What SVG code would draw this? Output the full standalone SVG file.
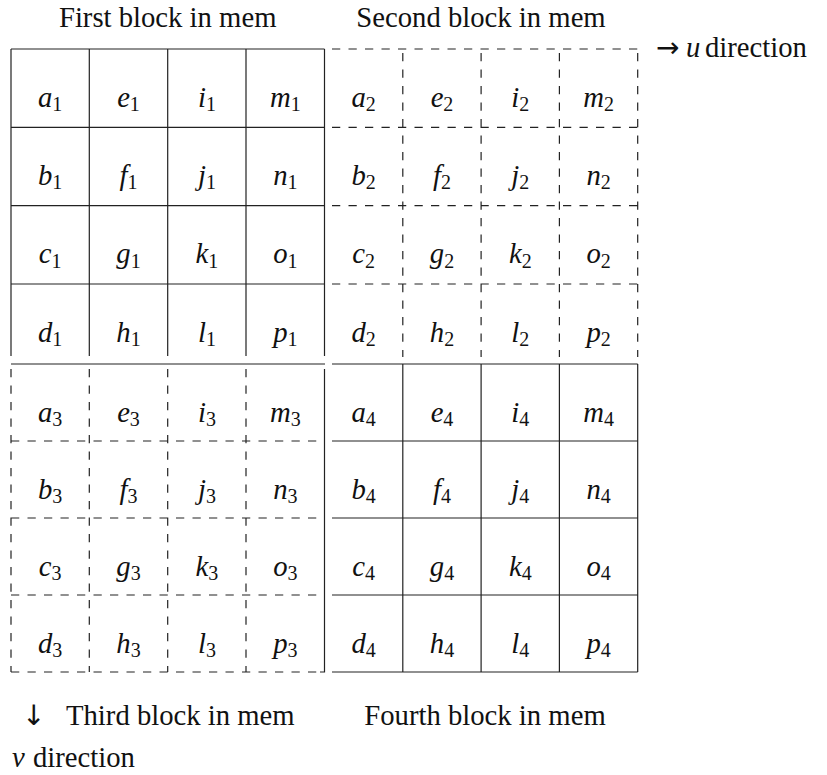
<svg xmlns="http://www.w3.org/2000/svg" width="827" height="775" viewBox="0 0 827 775">
<style>
.s{stroke:#222;stroke-width:1.2;fill:none}
.d{stroke:#222;stroke-width:1.2;stroke-dasharray:8.25 8.25;fill:none}
.m{font-family:'Liberation Serif','Times New Roman','DejaVu Serif',serif;font-style:italic;font-size:28.7px;text-anchor:middle;fill:#111}
.sub{font-style:normal;font-size:20px}
.t{font-family:'Liberation Serif','Times New Roman','DejaVu Serif',serif;font-size:28.7px;fill:#111}
.a{font-family:'DejaVu Sans',sans-serif;font-size:28px;fill:#111}
</style>
<rect width="827" height="775" fill="#fff"/>
<g id="connectors"></g>
<g id="block1">
<path class="s" d="M11,49H324.5M11,127.3H324.5M11,205.6H324.5M11,284H324.5M11,364H325M11,49V356M89.3,49V356M167.7,49V356M246,49V356M324.5,49V356"/>
<text class="m" x="50.2" y="106.5">a<tspan class="sub" dy="4.5">1</tspan></text>
<text class="m" x="128.5" y="106.5">e<tspan class="sub" dy="4.5">1</tspan></text>
<text class="m" x="206.9" y="106.5">i<tspan class="sub" dy="4.5">1</tspan></text>
<text class="m" x="285.3" y="106.5">m<tspan class="sub" dy="4.5">1</tspan></text>
<text class="m" x="50.2" y="184.8">b<tspan class="sub" dy="4.5">1</tspan></text>
<text class="m" x="128.5" y="184.8">f<tspan class="sub" dy="4.5">1</tspan></text>
<text class="m" x="206.9" y="184.8">j<tspan class="sub" dy="4.5">1</tspan></text>
<text class="m" x="285.3" y="184.8">n<tspan class="sub" dy="4.5">1</tspan></text>
<text class="m" x="50.2" y="263.1">c<tspan class="sub" dy="4.5">1</tspan></text>
<text class="m" x="128.5" y="263.1">g<tspan class="sub" dy="4.5">1</tspan></text>
<text class="m" x="206.9" y="263.1">k<tspan class="sub" dy="4.5">1</tspan></text>
<text class="m" x="285.3" y="263.1">o<tspan class="sub" dy="4.5">1</tspan></text>
<text class="m" x="50.2" y="341.5">d<tspan class="sub" dy="4.5">1</tspan></text>
<text class="m" x="128.5" y="341.5">h<tspan class="sub" dy="4.5">1</tspan></text>
<text class="m" x="206.9" y="341.5">l<tspan class="sub" dy="4.5">1</tspan></text>
<text class="m" x="285.3" y="341.5">p<tspan class="sub" dy="4.5">1</tspan></text>
</g>
<g id="block2">
<path class="d" d="M332,49H637.7M332,127.3H637.7M332,205.6H637.7M332,284H637.7M402.8,53V357M481.1,53V357M559.4,53V357M637.7,53V357"/>
<text class="m" x="363.7" y="106.5">a<tspan class="sub" dy="4.5">2</tspan></text>
<text class="m" x="442" y="106.5">e<tspan class="sub" dy="4.5">2</tspan></text>
<text class="m" x="520.3" y="106.5">i<tspan class="sub" dy="4.5">2</tspan></text>
<text class="m" x="598.6" y="106.5">m<tspan class="sub" dy="4.5">2</tspan></text>
<text class="m" x="363.7" y="184.8">b<tspan class="sub" dy="4.5">2</tspan></text>
<text class="m" x="442" y="184.8">f<tspan class="sub" dy="4.5">2</tspan></text>
<text class="m" x="520.3" y="184.8">j<tspan class="sub" dy="4.5">2</tspan></text>
<text class="m" x="598.6" y="184.8">n<tspan class="sub" dy="4.5">2</tspan></text>
<text class="m" x="363.7" y="263.1">c<tspan class="sub" dy="4.5">2</tspan></text>
<text class="m" x="442" y="263.1">g<tspan class="sub" dy="4.5">2</tspan></text>
<text class="m" x="520.3" y="263.1">k<tspan class="sub" dy="4.5">2</tspan></text>
<text class="m" x="598.6" y="263.1">o<tspan class="sub" dy="4.5">2</tspan></text>
<text class="m" x="363.7" y="341.5">d<tspan class="sub" dy="4.5">2</tspan></text>
<text class="m" x="442" y="341.5">h<tspan class="sub" dy="4.5">2</tspan></text>
<text class="m" x="520.3" y="341.5">l<tspan class="sub" dy="4.5">2</tspan></text>
<text class="m" x="598.6" y="341.5">p<tspan class="sub" dy="4.5">2</tspan></text>
</g>
<g id="block3">
<path class="d" d="M11,441H318M11,518H318M11,595H318M11,672H318M11,369V672M89.3,369V672M167.7,369V672M246,369V672"/>
<path class="s" d="M324.5,369V672H320"/>
<text class="m" x="50.2" y="421.5">a<tspan class="sub" dy="4.5">3</tspan></text>
<text class="m" x="128.5" y="421.5">e<tspan class="sub" dy="4.5">3</tspan></text>
<text class="m" x="206.9" y="421.5">i<tspan class="sub" dy="4.5">3</tspan></text>
<text class="m" x="285.3" y="421.5">m<tspan class="sub" dy="4.5">3</tspan></text>
<text class="m" x="50.2" y="498.5">b<tspan class="sub" dy="4.5">3</tspan></text>
<text class="m" x="128.5" y="498.5">f<tspan class="sub" dy="4.5">3</tspan></text>
<text class="m" x="206.9" y="498.5">j<tspan class="sub" dy="4.5">3</tspan></text>
<text class="m" x="285.3" y="498.5">n<tspan class="sub" dy="4.5">3</tspan></text>
<text class="m" x="50.2" y="575.5">c<tspan class="sub" dy="4.5">3</tspan></text>
<text class="m" x="128.5" y="575.5">g<tspan class="sub" dy="4.5">3</tspan></text>
<text class="m" x="206.9" y="575.5">k<tspan class="sub" dy="4.5">3</tspan></text>
<text class="m" x="285.3" y="575.5">o<tspan class="sub" dy="4.5">3</tspan></text>
<text class="m" x="50.2" y="652.5">d<tspan class="sub" dy="4.5">3</tspan></text>
<text class="m" x="128.5" y="652.5">h<tspan class="sub" dy="4.5">3</tspan></text>
<text class="m" x="206.9" y="652.5">l<tspan class="sub" dy="4.5">3</tspan></text>
<text class="m" x="285.3" y="652.5">p<tspan class="sub" dy="4.5">3</tspan></text>
</g>
<g id="block4">
<path class="s" d="M332,364H637.7M332,441H637.7M332,518H637.7M332,595H637.7M332,672H637.7M402.8,364V672M481.1,364V672M559.4,364V672M637.7,364V672"/>
<text class="m" x="363.7" y="421.5">a<tspan class="sub" dy="4.5">4</tspan></text>
<text class="m" x="442" y="421.5">e<tspan class="sub" dy="4.5">4</tspan></text>
<text class="m" x="520.3" y="421.5">i<tspan class="sub" dy="4.5">4</tspan></text>
<text class="m" x="598.6" y="421.5">m<tspan class="sub" dy="4.5">4</tspan></text>
<text class="m" x="363.7" y="498.5">b<tspan class="sub" dy="4.5">4</tspan></text>
<text class="m" x="442" y="498.5">f<tspan class="sub" dy="4.5">4</tspan></text>
<text class="m" x="520.3" y="498.5">j<tspan class="sub" dy="4.5">4</tspan></text>
<text class="m" x="598.6" y="498.5">n<tspan class="sub" dy="4.5">4</tspan></text>
<text class="m" x="363.7" y="575.5">c<tspan class="sub" dy="4.5">4</tspan></text>
<text class="m" x="442" y="575.5">g<tspan class="sub" dy="4.5">4</tspan></text>
<text class="m" x="520.3" y="575.5">k<tspan class="sub" dy="4.5">4</tspan></text>
<text class="m" x="598.6" y="575.5">o<tspan class="sub" dy="4.5">4</tspan></text>
<text class="m" x="363.7" y="652.5">d<tspan class="sub" dy="4.5">4</tspan></text>
<text class="m" x="442" y="652.5">h<tspan class="sub" dy="4.5">4</tspan></text>
<text class="m" x="520.3" y="652.5">l<tspan class="sub" dy="4.5">4</tspan></text>
<text class="m" x="598.6" y="652.5">p<tspan class="sub" dy="4.5">4</tspan></text>
</g>
<g id="captions">
<text class="t" x="167.7" y="27" text-anchor="middle">First block in mem</text>
<text class="t" x="481" y="27" text-anchor="middle">Second block in mem</text>
<text class="a" x="656" y="57">→</text>
<text class="t" x="686" y="57" font-style="italic">u</text>
<text class="t" x="705" y="57">direction</text>
<text class="a" x="22" y="725">↓</text>
<text class="t" x="66" y="725">Third block in mem</text>
<text class="t" x="485" y="725" text-anchor="middle">Fourth block in mem</text>
<text class="t" x="12" y="767" font-style="italic">v</text>
<text class="t" x="33" y="767">direction</text>
</g>
</svg>
